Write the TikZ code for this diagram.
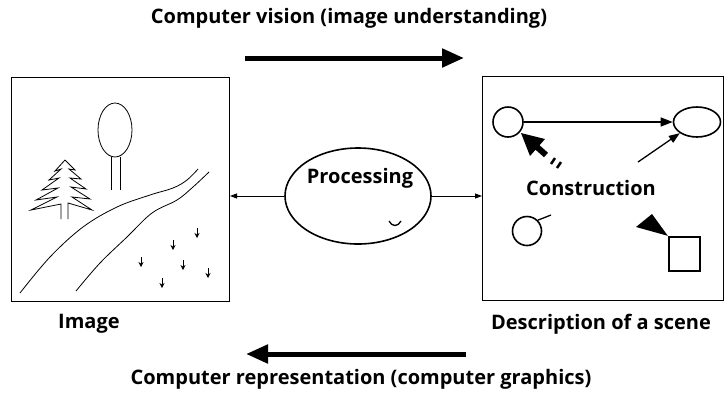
\documentclass[tikz,border=0pt]{standalone}
\usepackage{fontspec}
\setmainfont{Open Sans}
\usetikzlibrary{arrows.meta,shapes.geometric}
\begin{document}
\begin{tikzpicture}[x=1pt,y=-1pt,
  lbl/.style={font=\fontsize{20}{22}\selectfont\bfseries, inner sep=0pt},
  frame/.style={draw, line width=1pt},
  thin arrow/.style={line width=0.9pt, -{Triangle[length=7pt,width=5pt]}},
  big arrow/.style={line width=5pt, -{Triangle[length=22pt,width=18pt]}},
  ring/.style={draw, line width=1.6pt, circle, inner sep=0pt},
  oval/.style={draw, line width=1.6pt, ellipse, inner sep=0pt},
  tiny arrow/.style={line width=1pt, -{Stealth[length=5pt,width=5pt]}},
  sketch/.style={line width=0.8pt}]
\useasboundingbox (0,0) rectangle (727,392);

% headings and the two direction arrows
\node[lbl] (topT) at (349,18) {Computer vision (image understanding)};
\node[lbl] (botT) at (361,379) {Computer representation (computer graphics)};
\coordinate (ta) at (245,58); \coordinate (tb) at (464,58);
\coordinate (ba) at (466,354); \coordinate (bb) at (246,354);
\draw[big arrow] (ta) -- (tb);
\draw[big arrow] (ba) -- (bb);

% the two panels
\node[frame, minimum width=218pt, minimum height=224pt, inner sep=0pt, anchor=north west] (img) at (11,77) {};
\node[frame, minimum width=241pt, minimum height=224pt, inner sep=0pt, anchor=north west] (scn) at (482,76) {};
\node[lbl, anchor=west] (imgL) at (58,324) {Image};
\node[lbl] (scnL) at (601,324) {Description of a scene};

% processing ellipse
\node[oval, minimum width=146pt, minimum height=96pt] (proc) at (358,196) {};
\node[lbl] (procT) at (360,178) {Processing};
\draw[line width=1.3pt] (389,221) .. controls (392,227) and (398,227) .. (401,221);
\draw[thin arrow] (proc.west) -- (proc.west -| img.east);
\draw[thin arrow] (proc.east) -- (proc.east -| scn.west);

% landscape: deciduous tree
\draw[sketch] (115,130) ellipse [x radius=17, y radius=27];
\draw[sketch] (111,157) -- (111,190) (120,157) -- (120,190);
% pine tree
\draw[sketch, line join=miter] (65,160)
  -- (55,171) -- (61,169) -- (49,180) -- (59,178) -- (42,190) -- (58,188)
  -- (36,200) -- (57,197) -- (31,210) -- (61,204) -- (61,219);
\draw[sketch, line join=miter] (65,160)
  -- (75,170) -- (69,169) -- (81,179) -- (70,178) -- (86,189) -- (71,187)
  -- (90,199) -- (72,197) -- (92,210) -- (68,203) -- (68,219);
% road
\draw[sketch] plot[smooth, tension=0.6] coordinates
  {(20,293) (50,257) (83,227) (117,207) (150,195) (173,188) (187,180) (198,169)};
\draw[sketch] plot[smooth, tension=0.6] coordinates
  {(76,291) (100,263) (127,237) (152,213) (177,200) (193,187) (209,172)};
% grass marks
\foreach \gx/\gy in {197/228, 173/240, 141/257, 183/260, 208/268, 162/278}
  \draw[tiny arrow] (\gx,\gy) -- ++(0,10);

% scene description
\node[ring, minimum size=30pt] (c1) at (508,122) {};
\node[oval, minimum width=47pt, minimum height=30pt] (c2) at (697,122) {};
\draw[line width=1.3pt, -{Triangle[length=12pt,width=9pt]}] (c1.east) -- (c2.west);
\coordinate (w0) at (638,162);
\draw[line width=1.3pt, -{Triangle[length=11pt,width=8pt]}] (w0) -- (c2.south west);
% broken wedge arrow
\fill (521,133) -- (545,139) -- (530,156) -- cycle;
\draw[line width=6pt] (537,147) -- (546,155);
\draw[line width=2.5pt] (551,164) -- (555,158);
\draw[line width=2.5pt] (557,168) -- (561,162);
\node[lbl] (cons) at (591,188) {Construction};
\node[ring, minimum size=29pt] (c3) at (527,231) {};
\coordinate (tk) at (551,215);
\draw[line width=1.3pt] (c3.45) -- (tk);
\node[draw, line width=2.4pt, minimum width=31pt, minimum height=34pt, inner sep=0pt] (sq) at (684.5,254) {};
\fill (636,227) -- (652,214) -- (sq.north west) -- cycle;
\end{tikzpicture}
\end{document}
